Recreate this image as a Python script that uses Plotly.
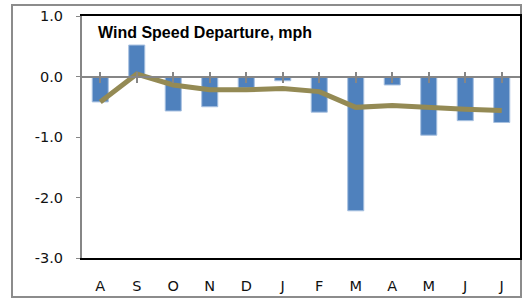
import plotly.graph_objects as go

months = ["A", "S", "O", "N", "D", "J", "F", "M", "A", "M", "J", "J"]
departure = [-0.42, 0.52, -0.57, -0.50, -0.19, -0.07, -0.59, -2.22, -0.14, -0.97, -0.73, -0.76]
trend = [-0.42, 0.04, -0.14, -0.22, -0.22, -0.20, -0.25, -0.51, -0.48, -0.52, -0.54, -0.56]
y_ticks = [1.0, 0.0, -1.0, -2.0, -3.0]
y_tick_labels = ["1.0", "0.0", "-1.0", "-2.0", "-3.0"]

x_idx = list(range(len(months)))

fig = go.Figure()
fig.add_trace(go.Bar(
    x=x_idx, y=departure,
    marker=dict(color="#4F81BD", line=dict(color="#A7C0E0", width=1)),
    width=0.44, showlegend=False,
))
fig.add_trace(go.Scatter(
    x=x_idx, y=trend, mode="lines",
    line=dict(color="#948A54", width=5),
    showlegend=False,
))

tickfont = dict(family="DejaVu Sans, sans-serif", size=14.5, color="#111111")

fig.update_layout(
    width=522, height=299,
    margin=dict(l=82, r=2, t=16, b=41),
    paper_bgcolor="white", plot_bgcolor="white",
    bargap=0.56,
    xaxis=dict(
        range=[-0.5, 11.5],
        tickmode="array", tickvals=x_idx, ticktext=months,
        showgrid=False, zeroline=False,
        showline=True, linecolor="black", linewidth=2, mirror=True,
        ticks="", tickfont=tickfont, ticklabelstandoff=14,
    ),
    xaxis2=dict(
        range=[-0.5, 11.5], overlaying="x", anchor="free", position=0.75,
        side="bottom",
        tickmode="array", tickvals=x_idx, ticktext=[""] * len(months),
        tickson="boundaries", ticks="outside", ticklen=5, tickwidth=2, tickcolor="#868686",
        showgrid=False, zeroline=False,
        showline=True, linecolor="#868686", linewidth=2,
        showticklabels=False,
    ),
    xaxis3=dict(
        range=[-0.5, 11.5], overlaying="x", anchor="free", position=0.75,
        side="top",
        tickmode="array", tickvals=x_idx, ticktext=[""] * len(months),
        tickson="boundaries", ticks="outside", ticklen=5, tickwidth=2, tickcolor="#868686",
        showgrid=False, zeroline=False, showline=False,
        showticklabels=False,
    ),
    yaxis=dict(
        range=[-3, 1], tickmode="array", tickvals=y_ticks, ticktext=y_tick_labels,
        showgrid=False, zeroline=False,
        showline=True, linecolor="#868686", linewidth=2,
        ticks="outside", ticklen=4, tickwidth=1, tickcolor="#868686",
        tickfont=tickfont, ticklabelstandoff=10,
    ),
    yaxis2=dict(
        range=[-3, 1], overlaying="y", side="right", anchor="x",
        showgrid=False, zeroline=False, showticklabels=False,
        showline=True, linecolor="black", linewidth=2, ticks="",
    ),
    shapes=[dict(
        type="rect", xref="paper", yref="paper",
        x0=-0.1598, x1=1.0023, y0=-0.161, y1=1.0455,
        line=dict(color="#8C8C8C", width=2), fillcolor="rgba(0,0,0,0)",
        layer="below",
    )],
    annotations=[dict(
        text="<b>Wind Speed Departure, mph</b>",
        xref="paper", yref="paper", x=0.032, y=0.93,
        xanchor="left", yanchor="middle", showarrow=False,
        font=dict(family="Liberation Sans, Arial, sans-serif", size=16, color="black"),
    )],
)

# invisible traces to activate the overlay axes
fig.add_trace(go.Scatter(x=[None], y=[None], xaxis="x2", showlegend=False, hoverinfo="skip"))
fig.add_trace(go.Scatter(x=[None], y=[None], xaxis="x3", showlegend=False, hoverinfo="skip"))
fig.add_trace(go.Scatter(x=[None], y=[None], yaxis="y2", showlegend=False, hoverinfo="skip"))

fig.write_html(
    "out.html",
    config={"displayModeBar": False},
    post_script="document.body.style.margin='0';document.body.style.overflow='hidden';",
)
